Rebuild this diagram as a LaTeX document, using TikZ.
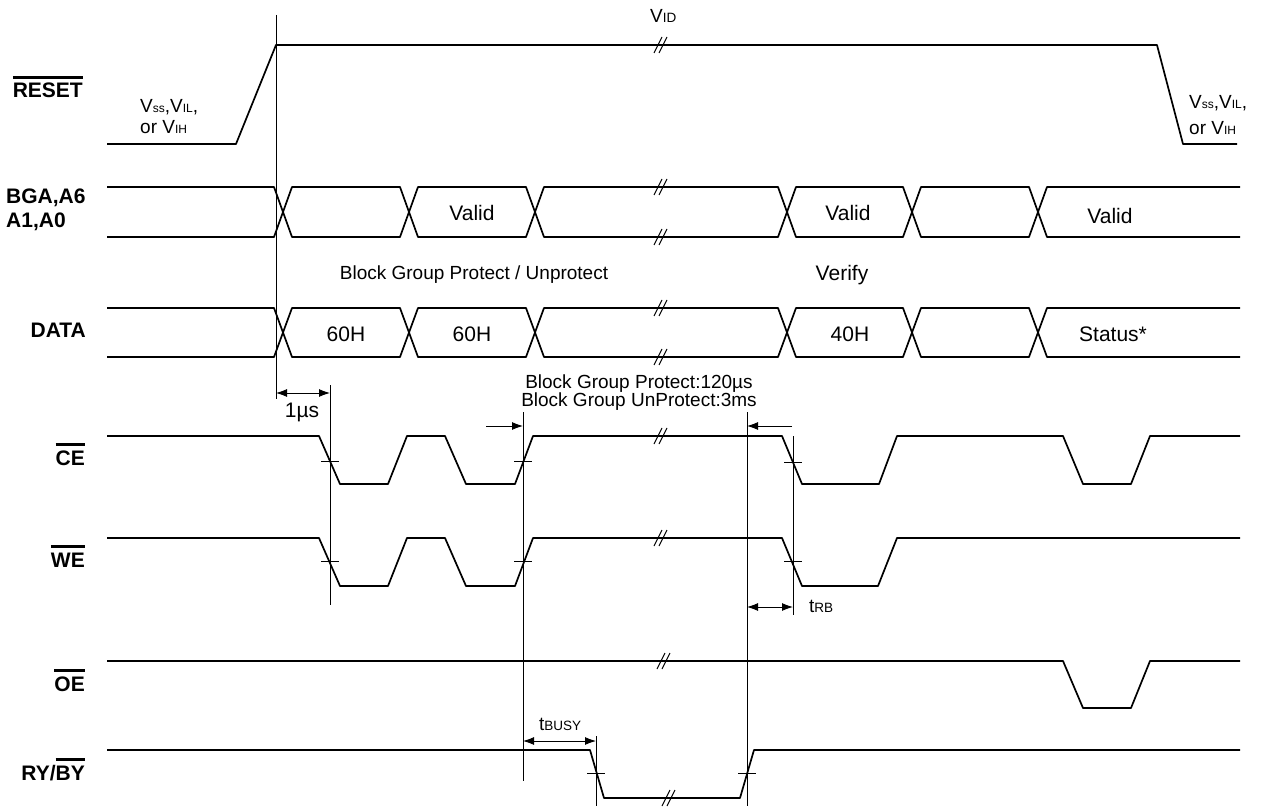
\documentclass[tikz,border=0pt]{standalone}
\usepackage{fontspec}
\setmainfont{Liberation Sans}
\usetikzlibrary{arrows.meta}
\newsavebox\ovbox
\newcommand\ovl[1]{\sbox\ovbox{#1}\rlap{\rule[\dimexpr\ht\ovbox+0.2em\relax]{\wd\ovbox}{0.15em}}\usebox\ovbox}
\newcommand\sm[1]{{\fontsize{13.5}{14}\selectfont #1}}
\newcommand\smv[1]{{\fontsize{12}{13}\selectfont #1}}
\begin{document}
\begin{tikzpicture}[x=1pt,y=-1pt,
  sig/.style={line width=1.7pt, line join=round},
  refl/.style={line width=0.9pt},
  dimarr/.style={line width=0.9pt, {Latex[length=11pt,width=8pt]}-{Latex[length=11pt,width=8pt]}},
  onearr/.style={line width=0.9pt, -{Latex[length=11pt,width=8pt]}},
  lbl/.style={font=\fontsize{21}{24}\selectfont\bfseries, anchor=base east, inner sep=0pt},
  lbll/.style={font=\fontsize{21}{24}\selectfont\bfseries, anchor=base west, inner sep=0pt},
  txt/.style={font=\fontsize{19}{22}\selectfont, anchor=base, inner sep=0pt},
  bus/.style={font=\fontsize{21}{24}\selectfont, anchor=base, inner sep=0pt},
  txtl/.style={font=\fontsize{19}{22}\selectfont, anchor=base west, inner sep=0pt},
  slash/.pic={\draw[line width=1pt] (-8,8)--(0,-8) (-3,8)--(5,-8);}]
\useasboundingbox (0,0) rectangle (1270,808);

% ---- labels ----
\node[lbl] (lreset) at (83,98) {\ovl{RESET}};
\node[lbll] (lbga) at (6,203) {BGA,A6};
\node[lbll] (la1) at (6,227) {A1,A0};
\node[lbl] (ldata) at (86,337) {DATA};
\node[lbl] (lce) at (85,465) {\ovl{CE}};
\node[lbl] (lwe) at (85,567) {\ovl{WE}};
\node[lbl] (loe) at (85,691) {\ovl{OE}};
\node[lbl] (lry) at (85,780) {RY/\ovl{BY}};

% ---- RESET ----
\draw[sig] (107,144)--(236,144)--(276,45)--(1157,45)--(1183,144)--(1237,144);
\pic at (662,45) {slash};
\node[txtl] (vid) at (650,23) {V\sm{ID}};
\node[txtl] (vl1) at (140,112) {V\smv{ss},V\smv{IL},};
\node[txtl] (vl2) at (140,133) {or V\smv{IH}};
\node[txtl] (vr1) at (1189,108) {V\smv{ss},V\smv{IL},};
\node[txtl] (vr2) at (1189,134) {or V\smv{IH}};

% ---- BGA bus ----
\draw[sig] (107,187)--(274,187)--(292,237)--(400,237)--(418,187)--(526,187)--(544,237)--(778,237)--(796,187)--(903,187)--(921,237)--(1029,237)--(1047,187)--(1240,187);
\draw[sig] (107,237)--(274,237)--(292,187)--(400,187)--(418,237)--(526,237)--(544,187)--(778,187)--(796,237)--(903,237)--(921,187)--(1029,187)--(1047,237)--(1240,237);
\pic at (662,187) {slash};
\pic at (662,237) {slash};
\node[bus] (v1) at (472,220) {Valid};
\node[bus] (v2) at (848,220) {Valid};
\node[bus] (v3) at (1110,223) {Valid};
\node[txt] (bgpu) at (474,279) {Block Group Protect / Unprotect};
\node[bus] (verify) at (842,280) {Verify};

% ---- DATA bus ----
\draw[sig] (107,308)--(274,308)--(292,357)--(400,357)--(418,308)--(526,308)--(544,357)--(778,357)--(796,308)--(903,308)--(921,357)--(1029,357)--(1047,308)--(1240,308);
\draw[sig] (107,357)--(274,357)--(292,308)--(400,308)--(418,357)--(526,357)--(544,308)--(778,308)--(796,357)--(903,357)--(921,308)--(1029,308)--(1047,357)--(1240,357);
\pic at (662,308) {slash};
\pic at (662,357) {slash};
\node[bus] (d1) at (346,341) {60H};
\node[bus] (d2) at (472,341) {60H};
\node[bus] (d3) at (850,341) {40H};
\node[bus] (d4) at (1113,341) {Status*};

% ---- CE ----
\draw[sig] (107,436)--(319,436)--(340,484)--(388,484)--(407,436)--(445,436)--(466,484)--(515,484)--(533,436)--(782,436)--(802,484)--(879,484)--(897,436)--(1063,436)--(1083,484)--(1131,484)--(1150,436)--(1240,436);
\pic at (662,436) {slash};

% ---- WE ----
\draw[sig] (107,538)--(319,538)--(340,586)--(388,586)--(407,538)--(445,538)--(466,586)--(515,586)--(533,538)--(782,538)--(802,586)--(878,586)--(897,538)--(1240,538);
\pic at (662,538) {slash};

% ---- OE ----
\draw[sig] (107,661)--(1063,661)--(1083,708)--(1131,708)--(1150,661)--(1240,661);
\pic at (665,661) {slash};

% ---- RY/BY ----
\draw[sig] (107,750)--(590,750)--(604,798)--(740,798)--(754,750)--(1240,750);
\pic at (670,798) {slash};

% ---- reference lines ----
\coordinate (r1t) at (276,15);  \coordinate (r1b) at (276,399);
\coordinate (r2t) at (330,385); \coordinate (r2b) at (330,605);
\coordinate (r3t) at (523,412); \coordinate (r3b) at (523,781);
\coordinate (r4t) at (747,412); \coordinate (r4b) at (747,806);
\coordinate (r5t) at (793,436); \coordinate (r5b) at (793,615);
\coordinate (r6t) at (596,736); \coordinate (r6b) at (596,806);
\draw[refl] (r1t)--(r1b) (r2t)--(r2b) (r3t)--(r3b) (r4t)--(r4b) (r5t)--(r5b) (r6t)--(r6b);

% ticks
\foreach \x/\y in {330/461, 330/561, 523/461, 523/561, 793/462, 793/561, 596/773, 747/773}
  \draw[refl] (\x-9,\y)--(\x+9,\y);

% ---- dimension arrows ----
\coordinate (a1l) at (276,393); \coordinate (a1r) at (330,393);
\draw[dimarr] (a1l)--(a1r);
\node[bus] (t1us) at (302,417) {1µs};

\coordinate (a2s) at (486,426); \coordinate (a2e) at (523,426);
\draw[onearr] (a2s)--(a2e);
\coordinate (a3s) at (792,426); \coordinate (a3e) at (747,426);
\draw[onearr] (a3s)--(a3e);
\node[txt] (bgp1) at (639,388) {Block Group Protect:120µs};
\node[txt] (bgp2) at (639,406) {Block Group UnProtect:3ms};

\coordinate (a4l) at (747,607); \coordinate (a4r) at (793,607);
\draw[dimarr] (a4l)--(a4r);
\node[txtl] (trb) at (809,612) {t\sm{RB}};

\coordinate (a5l) at (523,741); \coordinate (a5r) at (596,741);
\draw[dimarr] (a5l)--(a5r);
\node[txtl] (tbusy) at (539,730) {t\sm{BUSY}};
\end{tikzpicture}
\end{document}
